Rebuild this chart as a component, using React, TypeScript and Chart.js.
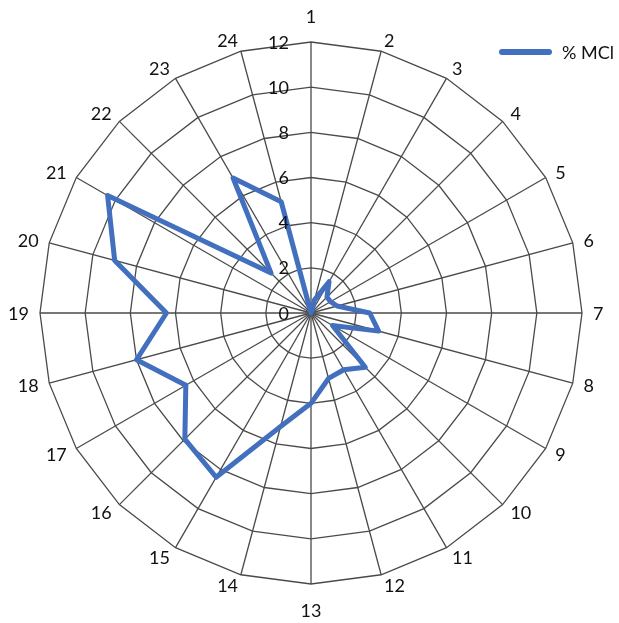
import { useEffect, useRef } from 'react';
import { Chart, registerables } from 'chart.js';

Chart.register(...registerables);

// Axis categories (1..24) around the radar
const categories = ['1', '2', '3', '4', '5', '6', '7', '8', '9', '10', '11', '12', '13', '14', '15', '16', '17', '18', '19', '20', '21', '22', '23', '24'];

// % MCl per category
const mciPercent = [0, 0.6, 1.6, 1.0, 1.0, 1.2, 2.6, 3.1, 1.1, 3.4, 2.9, 3.0, 4.0, 5.2, 8.4, 7.9, 6.4, 8.0, 6.4, 9.0, 10.4, 2.5, 6.9, 5.1];

// Radial tick values
const tickValues = [0, 2, 4, 6, 8, 10, 12];

const seriesLabel = '% MCl';

const LINE_COLOR = '#4270BE';
const GRID_COLOR = '#4a4a4a';
const TEXT_COLOR = '#111111';
const FONT_SIZE = 18;
const FONT = `${FONT_SIZE}px Lato, "Open Sans", sans-serif`;
const CAP_HALF = 6.5;

// Draws category labels, radial tick labels and the legend on the canvas.
const radarText = {
  id: 'radarText',
  afterDatasetsDraw(chart: any) {
    const scale = chart.scales.r;
    const ctx = chart.ctx as CanvasRenderingContext2D;
    ctx.save();
    ctx.font = FONT;
    ctx.fillStyle = TEXT_COLOR;
    ctx.textBaseline = 'alphabetic';

    (chart.data.labels as string[]).forEach((lab, i) => {
      const p = scale.getPointPosition(i, scale.drawingArea + 11);
      const dx = Math.cos(p.angle);
      const dy = Math.sin(p.angle);
      let y = p.y;
      if (Math.abs(dx) < 0.01) {
        ctx.textAlign = 'center';
        y += dy * 15;
      } else {
        ctx.textAlign = dx > 0 ? 'left' : 'right';
      }
      ctx.fillText(lab, p.x, y + CAP_HALF);
    });

    ctx.textAlign = 'right';
    tickValues.forEach((v) => {
      const d = scale.getDistanceFromCenterForValue(v);
      ctx.fillText(String(v), scale.xCenter - 22, scale.yCenter - d + CAP_HALF);
    });

    // legend
    const lx = 502;
    const ly = 52;
    ctx.strokeStyle = LINE_COLOR;
    ctx.lineWidth = 6;
    ctx.lineCap = 'round';
    ctx.beginPath();
    ctx.moveTo(lx, ly);
    ctx.lineTo(lx + 47, ly);
    ctx.stroke();
    ctx.textAlign = 'left';
    ctx.fillText(seriesLabel, 562, ly + CAP_HALF);
    ctx.restore();
  },
};

export default function App() {
  const canvasRef = useRef<HTMLCanvasElement | null>(null);

  useEffect(() => {
    if (!canvasRef.current) return;
    const chart = new Chart(canvasRef.current, {
      type: 'radar',
      data: {
        labels: categories,
        datasets: [
          {
            label: seriesLabel,
            data: mciPercent,
            borderColor: LINE_COLOR,
            backgroundColor: LINE_COLOR,
            borderWidth: 5,
            borderJoinStyle: 'round',
            borderCapStyle: 'round',
            fill: false,
            pointRadius: 0,
            pointHoverRadius: 0,
            tension: 0,
          },
        ],
      },
      options: {
        responsive: false,
        animation: false,
        layout: { padding: { left: 40, right: 37, top: 42, bottom: 39 } },
        plugins: {
          legend: { display: false },
          tooltip: { enabled: false },
        },
        scales: {
          r: {
            min: 0,
            max: 12,
            ticks: { stepSize: 2, display: false },
            grid: { color: GRID_COLOR, lineWidth: 1.3, circular: false },
            angleLines: { color: GRID_COLOR, lineWidth: 1.3 },
            pointLabels: { display: false },
          },
        },
      },
      plugins: [radarText],
    });
    return () => chart.destroy();
  }, []);

  return (
    <div style={{ position: 'fixed', left: 0, top: 0, width: 619, height: 623, background: '#fff' }}>
      <canvas ref={canvasRef} width={619} height={623} style={{ display: 'block' }} />
    </div>
  );
}
